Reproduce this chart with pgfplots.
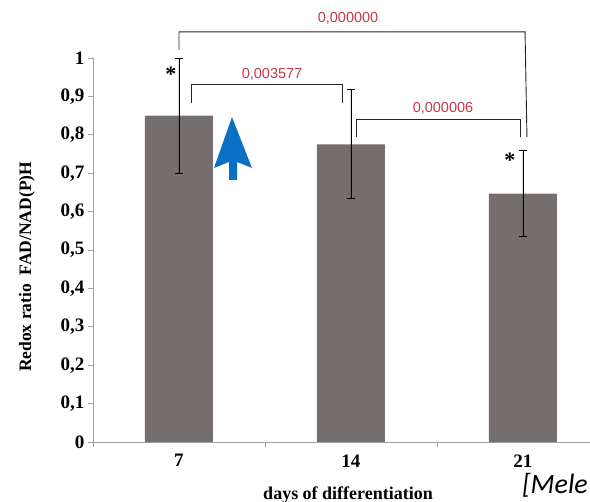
\documentclass[border=0pt]{standalone}
\usepackage{fontspec}
\setmainfont{Liberation Serif}
\newfontfamily\sansf{Liberation Sans}
\newfontfamily\carlito{Carlito}
\usepackage{pgfplots}
\pgfplotsset{compat=1.18}
\definecolor{barcol}{RGB}{116,111,110}
\definecolor{axisgray}{RGB}{160,160,160}
\definecolor{pred}{RGB}{196,56,72}
\definecolor{arrowblue}{RGB}{10,112,196}
\begin{document}
\begin{tikzpicture}[x=1pt,y=1pt]
\useasboundingbox (0,0) rectangle (590,502);
\clip (0,0) rectangle (590,502);
\begin{axis}[
  at={(93pt,60pt)}, anchor=south west,
  scale only axis, width=516pt, height=384pt,
  xmin=-0.5, xmax=2.5, ymin=0, ymax=1,
  axis x line=bottom, axis y line=left,
  axis line style={draw=axisgray, line width=0.9pt, -},
  tick align=outside, major tick length=5pt,
  tick style={draw=axisgray, line width=0.9pt},
  xtick={-0.5,0.5,1.5,2.5}, xticklabels={},
  extra x ticks={0,1,2}, extra x tick labels={7,14,21},
  extra x tick style={major tick length=0pt, xticklabel style={yshift=-9pt}},
  ytick={0,0.1,0.2,0.3,0.4,0.5,0.6,0.7,0.8,0.9,1},
  tick label style={font=\fontsize{19}{22}\selectfont\bfseries},
  /pgf/number format/.cd, use comma, fixed, precision=1, assume math mode=true,
  /pgfplots/.cd,
  ylabel={Redox ratio\ \ FAD/NAD(P)H},
  ylabel style={at={(axis cs:-0.884,0.456)}, anchor=center, font=\fontsize{17.5}{20}\selectfont\bfseries},
  xlabel={days of differentiation},
  xlabel style={at={(axis cs:0.983,-0.150)}, anchor=base, font=\fontsize{18}{20}\selectfont\bfseries},
  ybar, bar width=68pt,
  clip=false,
]
\addplot[fill=barcol, draw=none,
  error bars/.cd, y dir=both, y explicit,
  error bar style={black, line width=0.9pt},
  error mark options={rotate=90, mark size=4pt, black, line width=0.9pt}]
  coordinates {
    (0,0.85) +- (0,0.15)
    (1,0.775) +- (0,0.142)
    (2,0.647) +- (0,0.113)
  };
% significance brackets
\draw[black!85, line width=0.9pt] (axis cs:0,1.021) -- (axis cs:0,1.068) -- (axis cs:2.012,1.068) -- (axis cs:2.023,0.794);
\draw[black!85, line width=0.9pt] (axis cs:0.07,0.883) -- (axis cs:0.07,0.930) -- (axis cs:0.953,0.930) -- (axis cs:0.953,0.883);
\draw[black!85, line width=0.9pt] (axis cs:1.029,0.794) -- (axis cs:1.029,0.839) -- (axis cs:1.983,0.839) -- (axis cs:1.983,0.794);
\node[text=pred, font=\sansf\fontsize{14.5}{16}\selectfont] at (axis cs:0.983,1.104) {0,000000};
\node[text=pred, font=\sansf\fontsize{14.5}{16}\selectfont] at (axis cs:0.541,0.958) {0,003577};
\node[text=pred, font=\sansf\fontsize{14.5}{16}\selectfont] at (axis cs:1.535,0.870) {0,000006};
\node[anchor=base, font=\fontsize{22}{24}\selectfont\bfseries] at (axis cs:-0.047,0.940) {*};
\node[anchor=base, font=\fontsize{22}{24}\selectfont\bfseries] at (axis cs:1.924,0.714) {*};
\end{axis}
% blue arrow
\fill[arrowblue] (232,385) -- (252,334) -- (237,340) -- (237,322) -- (229,322) -- (229,340) -- (214,334) -- cycle;
\node[anchor=base east, font=\carlito\itshape\fontsize{28}{30}\selectfont, inner sep=0pt] at (588,8) {[Mele};
\end{tikzpicture}
\end{document}
